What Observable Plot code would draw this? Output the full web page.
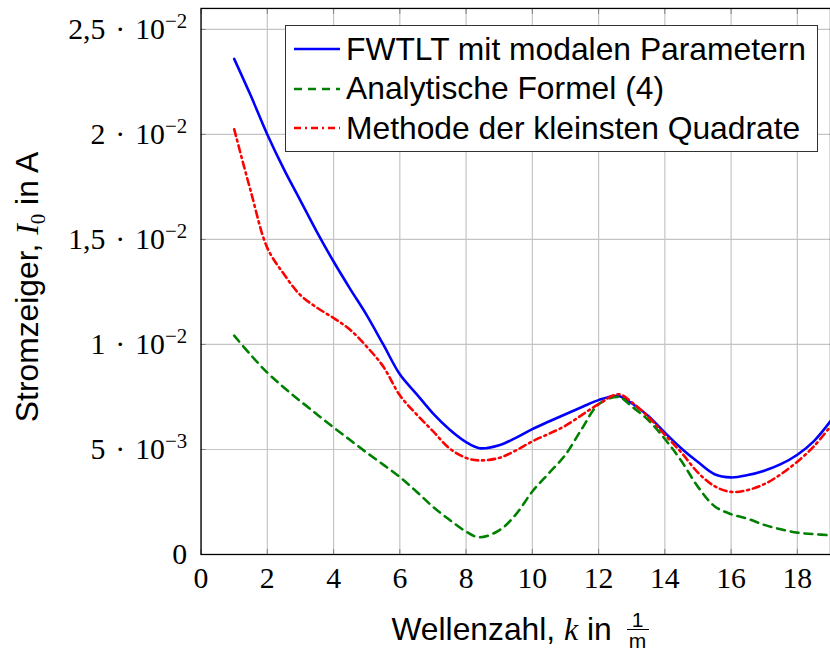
<!DOCTYPE html>
<html><head><meta charset="utf-8">
<script src="https://cdn.jsdelivr.net/npm/d3@7"></script>
<script src="https://cdn.jsdelivr.net/npm/@observablehq/plot@0.6"></script>
<style>
html,body{margin:0;padding:0;overflow:hidden;background:#fff}
#wrap{position:relative;width:830px;height:655px;overflow:hidden}
#wrap svg{position:absolute;left:0;top:0}
.sans{font-family:"Liberation Sans",Arial,sans-serif;color:#000}
.math{font-family:"Liberation Serif",serif;font-style:italic}
#legend{position:absolute;left:285px;top:25px;width:533px;height:127px;box-sizing:border-box;border:1.3px solid #333;background:#fff}
.row{position:absolute;left:0;height:40px;display:flex;align-items:center;font-size:31.8px;white-space:nowrap}
.row svg{position:static !important;margin-left:8px;margin-right:6px}
#xlabel{position:absolute;left:202px;width:636px;top:611px;text-align:center;font-size:31.8px;line-height:normal;white-space:nowrap}
#ylabel{position:absolute;left:-173px;top:267px;width:400px;height:40px;line-height:40px;text-align:center;font-size:31.8px;transform:rotate(-90deg);white-space:nowrap}
.frac{display:inline-block;position:relative;width:22px;height:1px;margin-left:6px}
.frac .num,.frac .den{position:absolute;left:0;width:22px;text-align:center;font-size:21px;line-height:21px}
.frac .num{top:-30px}
.frac .den{top:-10px;border-top:1.3px solid #000}
</style></head><body><div id="wrap"></div>
<script>
// Wellenzahl k in 1/m
const k = [1, 1.5, 2, 2.5, 3, 3.5, 4, 4.5, 5, 5.5, 6, 6.5, 7, 7.5, 8, 8.4, 9, 9.5, 10, 10.5, 11, 11.5, 12, 12.6, 13, 13.5, 14, 14.5, 15, 15.5, 16, 16.5, 17, 17.5, 18, 18.5, 19];
// Stromzeiger I0 in A
const fwtlt = [0.0236, 0.02185, 0.0200, 0.01835, 0.01685, 0.01535, 0.01395, 0.01265, 0.0114, 0.0100, 0.00858, 0.00765, 0.00672, 0.00595, 0.00535, 0.00506, 0.0052, 0.00555, 0.00597, 0.00633, 0.00668, 0.00702, 0.00735, 0.00755, 0.0072, 0.0066, 0.0058, 0.00505, 0.0044, 0.00382, 0.00367, 0.00378, 0.00399, 0.0043, 0.00475, 0.0054, 0.00635];
const analytisch = [0.01042, 0.0095, 0.00866, 0.00795, 0.0073, 0.00667, 0.00605, 0.00545, 0.00485, 0.00428, 0.00369, 0.0030, 0.00227, 0.00165, 0.00109, 0.00082, 0.00115, 0.0019, 0.0030, 0.00387, 0.00475, 0.0060, 0.00715, 0.0075, 0.00705, 0.0064, 0.0055, 0.00445, 0.00322, 0.0023, 0.00192, 0.0017, 0.00141, 0.0012, 0.00104, 0.00097, 0.00091];
const quadrate = [0.02025, 0.0173, 0.0146, 0.01335, 0.01235, 0.01175, 0.01126, 0.0107, 0.0099, 0.00895, 0.00758, 0.00668, 0.00587, 0.00505, 0.0046, 0.00448, 0.0046, 0.00495, 0.00539, 0.00575, 0.00613, 0.00665, 0.00716, 0.00763, 0.00725, 0.00655, 0.0057, 0.00485, 0.0039, 0.00325, 0.00298, 0.00307, 0.00335, 0.00382, 0.00442, 0.00515, 0.0061];
const seriesNames = ["FWTLT mit modalen Parametern", "Analytische Formel (4)", "Methode der kleinsten Quadrate"];
const seriesColors = ["#0000ff", "#008000", "#ff0000"];
const seriesDash = [null, "8,6", "7,4,2,4"];
const xTicks = [0, 2, 4, 6, 8, 10, 12, 14, 16, 18];
const yTicks = [0, 0.005, 0.01, 0.015, 0.02, 0.025];
const yTickLabels = ["0", "5·10^−3", "1·10^−2", "1,5·10^−2", "2·10^−2", "2,5·10^−2"];

const seriesValues = [fwtlt, analytisch, quadrate];
const rows = seriesValues.flatMap((vals, s) => vals.map((v, i) => ({k: k[i], v, s})));

const tickColor = "#808080";
const gridColor = "#c4c4c4";

const lineMarks = seriesValues.map((vals, s) =>
  Plot.line(rows.filter(d => d.s === s), {
    x: "k", y: "v", stroke: seriesColors[s], strokeWidth: 2.6,
    strokeDasharray: seriesDash[s] || undefined, curve: "catmull-rom"
  })
);

const plot = Plot.plot({
  width: 836, height: 655,
  marginLeft: 202, marginRight: 0, marginTop: 8, marginBottom: 97,
  style: {fontFamily: "'Liberation Serif', serif", fontSize: "30px", color: "#000", background: "transparent"},
  x: {domain: [0, 19]},
  y: {domain: [0, 0.026]},
  marks: [
    Plot.gridX(xTicks, {stroke: gridColor, strokeOpacity: 1, strokeWidth: 1.2}),
    Plot.gridY(yTicks, {stroke: gridColor, strokeOpacity: 1, strokeWidth: 1.2}),
    Plot.axisX(xTicks, {anchor: "bottom", tickSize: 5, dy: -5, tickFormat: () => "", label: null, stroke: tickColor}),
    Plot.axisX(xTicks, {anchor: "top", tickSize: 5, dy: 5, tickFormat: () => "", label: null, stroke: tickColor}),
    Plot.axisY(yTicks, {anchor: "left", tickSize: 5, dx: 5, tickFormat: () => "", label: null, stroke: tickColor}),
    Plot.axisX(xTicks, {anchor: "bottom", tickSize: 0, tickPadding: 12, label: null, fill: "#000"}),
    Plot.axisY(yTicks, {anchor: "left", tickSize: 0, tickPadding: 14, label: null, fill: "#000",
      tickFormat: d => yTickLabels[yTicks.indexOf(d)]}),
    ...lineMarks,
    Plot.frame({stroke: "#000", strokeWidth: 1.3})
  ]
});

// typeset y tick labels as mantissa · 10^exponent
plot.querySelectorAll("text").forEach(t => {
  const s = t.textContent;
  if (!s.includes("^")) return;
  const [m, e] = s.split("^");
  const mant = m.replace("·10", "");
  const ns = "http://www.w3.org/2000/svg";
  t.textContent = "";
  const add = (txt, attrs) => {
    const ts = document.createElementNS(ns, "tspan");
    ts.textContent = txt;
    for (const a in attrs) ts.setAttribute(a, attrs[a]);
    t.appendChild(ts);
    return ts;
  };
  add(mant, {});
  add("·", {dx: 10});
  add("10", {dx: 10});
  add(e, {dy: -11, "font-size": "21px"});
});

const wrap = document.getElementById("wrap");
wrap.appendChild(plot);

// legend
const legend = document.createElement("div");
legend.id = "legend";
legend.className = "sans";
seriesNames.forEach((name, s) => {
  const row = document.createElement("div");
  row.className = "row";
  row.style.top = (3 + s * 39.5) + "px";
  row.innerHTML = `<svg width="46" height="10"><line x1="0" x2="46" y1="5" y2="5" stroke="${seriesColors[s]}" stroke-width="2.6" ${seriesDash[s] ? `stroke-dasharray="${seriesDash[s]}"` : ""}/></svg><span>${name}</span>`;
  legend.appendChild(row);
});
wrap.appendChild(legend);

const xl = document.createElement("div");
xl.id = "xlabel"; xl.className = "sans";
xl.innerHTML = `Wellenzahl, <span class="math">k</span> in <span class="frac"><span class="num">1</span><span class="den">m</span></span>`;
wrap.appendChild(xl);

const yl = document.createElement("div");
yl.id = "ylabel"; yl.className = "sans";
yl.innerHTML = `Stromzeiger, <span class="math">I<sub style="font-style:normal;font-size:21px">0</sub></span> in A`;
wrap.appendChild(yl);
</script></body></html>
